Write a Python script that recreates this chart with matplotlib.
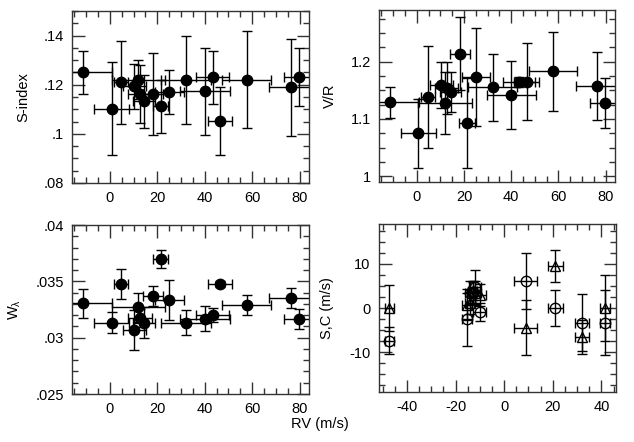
import matplotlib
matplotlib.use("Agg")
import matplotlib.pyplot as plt
from matplotlib.ticker import MultipleLocator

plt.rcParams['font.family'] = ['Liberation Sans', 'DejaVu Sans']
plt.rcParams['mathtext.fontset'] = 'custom'
plt.rcParams['mathtext.rm'] = 'Liberation Sans'
plt.rcParams['mathtext.it'] = 'Liberation Sans'

# shared RV values (m/s) and their errors, used by three panels
rv = [-11.5, 0.7, 4.6, 10.3, 12.0, 12.7, 14.4, 18.3, 21.4, 25.1, 32.1, 40.1, 43.4, 46.5, 57.8, 76.5, 79.9]
rv_err = [12.3, 7.3, 3.0, 4.9, 11.3, 4.9, 4.5, 4.2, 3.3, 6.0, 10.4, 10.5, 6.9, 5.2, 10.3, 9.2, 6.3]

s_index = [.1251, .1103, .1210, .1193, .1220, .1163, .1133, .1163, .1112, .1170, .1220, .1173, .1231, .1052, .1220, .1190, .1231]
s_index_err = [.0088, .019, .0168, .009, .008, .0118, .0108, .0167, .0108, .0088, .018, .0177, .0108, .0138, .0197, .0197, .0118]

vr = [1.129, 1.075, 1.138, 1.159, 1.128, 1.154, 1.147, 1.214, 1.093, 1.173, 1.155, 1.142, 1.165, 1.165, 1.183, 1.157, 1.128]
vr_err = [.027, .06, .089, .04, .054, .046, .035, .064, .079, .085, .059, .059, .009, .067, .069, .059, .044]

w_lam = [.03306, .03134, .03477, .0307, .0327, .03178, .03134, .0337, .03696, .03335, .03134, .03167, .0320, .03477, .03291, .03353, .03164]
w_lam_err = [.0013, .0009, .0013, .0018, .0013, .0008, .0014, .0009, .0008, .0018, .0011, .0011, .0006, .0003, .0009, .0009, .0009]

# bottom right panel: S (circles) and C (triangles)
rv2 = [-47.2, -15.4, -14.2, -13.0, -12.0, -10.0, 8.8, 21.0, 32.0, 41.6]
rv2_err = [1.8, 2.0, 2.0, 2.0, 2.5, 2.7, 4.6, 3.0, 2.8, 2.0]
s_vals = [-7.4, -2.6, 3.5, 3.7, 4.7, -0.9, 6.1, 0.0, -3.3, -3.3]
s_err = [3.0, 5.9, 2.5, 2.5, 4.0, 2.0, 6.3, 4.0, 6.5, 7.3]
c_vals = [0.0, 0.7, 1.2, 3.8, 3.5, 3.0, -4.5, 9.5, -6.5, 0.0]
c_err = [5.2, 3.5, 2.5, 2.0, 2.5, 2.5, 6.2, 3.7, 3.8, 7.5]

x_ticks = [0, 20, 40, 60, 80]
x_ticks2 = [-40, -20, 0, 20, 40]
x_labels2 = ['-40', '-20', '0', '20', '40']

fig = plt.figure(figsize=(6.34, 4.42), dpi=100)
ax_tl = fig.add_axes([72/634, 1-183/442, 237/634, 172/442])
ax_tr = fig.add_axes([379/634, 1-182/442, 236/634, 172/442])
ax_bl = fig.add_axes([72/634, 1-394/442, 237/634, 169/442])
ax_br = fig.add_axes([379/634, 1-392/442, 237/634, 168/442])

eb = dict(color='black', ecolor='black', elinewidth=1.0, capsize=3.5, capthick=1.0)


def style(ax, xminor, yminor):
    ax.xaxis.set_minor_locator(MultipleLocator(xminor))
    ax.yaxis.set_minor_locator(MultipleLocator(yminor))
    ax.tick_params(which='both', direction='in', top=True, right=True, width=1.0, colors='#333333',
                   labelcolor='black', labelsize=10.5, pad=6)
    ax.tick_params(which='major', length=9)
    ax.tick_params(which='minor', length=4.5)
    for sp in ax.spines.values():
        sp.set_linewidth(1.0)
        sp.set_color('#333333')


# S-index
ax_tl.errorbar(rv, s_index, xerr=rv_err, yerr=s_index_err, fmt='o', ms=7.5, **eb)
ax_tl.set_xlim(-16, 84)
ax_tl.set_ylim(0.08, 0.15)
ax_tl.set_xticks(x_ticks)
ax_tl.set_yticks([0.08, 0.10, 0.12, 0.14], ['.08', '.1', '.12', '.14'])
ax_tl.set_ylabel('S-index', fontsize=10.5)
ax_tl.yaxis.set_label_coords(-0.175, 0.5)
style(ax_tl, 5, 0.005)

# V/R
ax_tr.errorbar(rv, vr, xerr=rv_err, yerr=vr_err, fmt='o', ms=7.5, **eb)
ax_tr.set_xlim(-16, 84)
ax_tr.set_ylim(0.99, 1.29)
ax_tr.set_xticks(x_ticks)
ax_tr.set_yticks([1.0, 1.1, 1.2], ['1', '1.1', '1.2'])
ax_tr.set_ylabel('V/R', fontsize=10.5)
ax_tr.yaxis.set_label_coords(-0.178, 0.5)
style(ax_tr, 5, 0.025)

# W_lambda
ax_bl.errorbar(rv, w_lam, xerr=rv_err, yerr=w_lam_err, fmt='o', ms=7.5, **eb)
ax_bl.set_xlim(-16, 84)
ax_bl.set_ylim(0.025, 0.04)
ax_bl.set_xticks(x_ticks)
ax_bl.set_yticks([0.025, 0.03, 0.035, 0.04], ['.025', '.03', '.035', '.04'])
ax_bl.set_ylabel(r'$\mathrm{W_\lambda}$', fontsize=10.5)
ax_bl.yaxis.set_label_coords(-0.205, 0.5)
style(ax_bl, 5, 0.001)

# S,C
ax_br.errorbar(rv2, s_vals, xerr=rv2_err, yerr=s_err, fmt='o', ms=7.5, mfc='none', mec='black', mew=1.0, **eb)
ax_br.errorbar(rv2, c_vals, xerr=rv2_err, yerr=c_err, fmt='^', ms=7, mfc='none', mec='black', mew=1.0, **eb)
ax_br.set_xlim(-51.5, 46)
ax_br.set_ylim(-19, 19)
ax_br.set_xticks(x_ticks2, x_labels2)
ax_br.set_yticks([-10, 0, 10], ['-10', '0', '10'])
ax_br.set_ylabel('S,C (m/s)', fontsize=10.5)
ax_br.yaxis.set_label_coords(-0.19, 0.5)
style(ax_br, 5, 2.5)

fig.text(0.505, 0.04, 'RV (m/s)', ha='center', va='center', fontsize=10.5)

fig.savefig('out.png', dpi=100)
